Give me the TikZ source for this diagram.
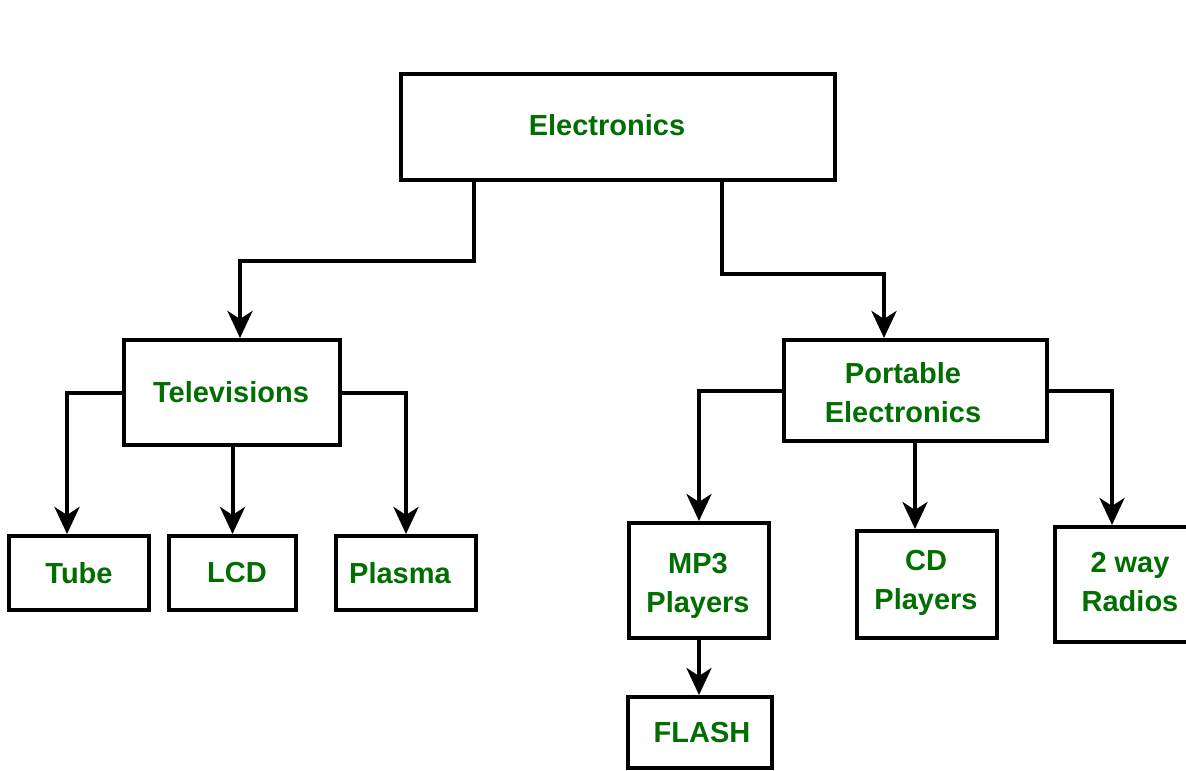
\documentclass[tikz,border=0pt]{standalone}
\usepackage{fontspec}
\setmainfont{Liberation Sans}
\usetikzlibrary{arrows.meta}
\definecolor{labelgreen}{RGB}{0,110,0}
\begin{document}
\begin{tikzpicture}[x=1pt,y=-1pt,
  box/.style={draw=black,line width=4pt,fill=white,inner sep=0pt,anchor=center},
  lbl/.style={text=labelgreen,font=\fontsize{29}{39}\selectfont\bfseries,align=center,inner sep=0pt},
  arr/.style={draw=black,line width=4pt,-{Stealth[length=27pt,width=25pt,inset=8pt]}}]
\useasboundingbox (0,0) rectangle (1186,771);
\fill[white] (0,0) rectangle (1186,771);

% boxes
\node[box,minimum width=434pt,minimum height=106pt] (elec) at (618,127) {};
\node[box,minimum width=216pt,minimum height=105pt] (tv) at (232,392.5) {};
\node[box,minimum width=263pt,minimum height=101pt] (port) at (915.5,390.5) {};
\node[box,minimum width=140pt,minimum height=74pt] (tube) at (79,573) {};
\node[box,minimum width=127pt,minimum height=74pt] (lcd) at (232.5,573) {};
\node[box,minimum width=140pt,minimum height=74pt] (plasma) at (406,573) {};
\node[box,minimum width=140pt,minimum height=115pt] (mp3) at (699,580.5) {};
\node[box,minimum width=140pt,minimum height=107pt] (cd) at (927,584.5) {};
\node[box,minimum width=140pt,minimum height=115pt] (radio) at (1125,584.5) {};
\node[box,minimum width=144pt,minimum height=71pt] (flash) at (700,732.5) {};

% labels
\node[lbl] (elecT) at (607,125) {Electronics};
\node[lbl] (tvT) at (231,392) {Televisions};
\node[lbl] (portT) at (903,393) {Portable\\Electronics};
\node[lbl] (tubeT) at (79,573) {Tube};
\node[lbl] (lcdT) at (237,573) {LCD};
\node[lbl] (plasmaT) at (400,573) {Plasma};
\node[lbl] (mp3T) at (698,586) {MP3\\Players};
\node[lbl] (cdT) at (926,583) {CD\\Players};
\node[lbl] (radioT) at (1130,582) {2 way\\Radios};
\node[lbl] (flashT) at (702,733) {FLASH};

% connectors
\draw[arr] ([xshift=-144pt]elec.south) -- ++(0,79) -| ([xshift=8pt]tv.north);
\draw[arr] ([xshift=104pt]elec.south) -- ++(0,92) -| ([xshift=-31.5pt]port.north);
\draw[arr] (tv.west) -| ([xshift=-12pt]tube.north);
\draw[arr] (lcd.north |- tv.south) -- (lcd.north);
\draw[arr] (tv.east) -| (plasma.north);
\draw[arr] (port.west) -| (mp3.north);
\draw[arr] ([xshift=-12pt]cd.north |- port.south) -- ([xshift=-12pt]cd.north);
\draw[arr] (port.east) -| ([xshift=-13pt]radio.north);
\draw[arr] (mp3.south) -- (mp3.south |- flash.north);
\end{tikzpicture}
\end{document}
